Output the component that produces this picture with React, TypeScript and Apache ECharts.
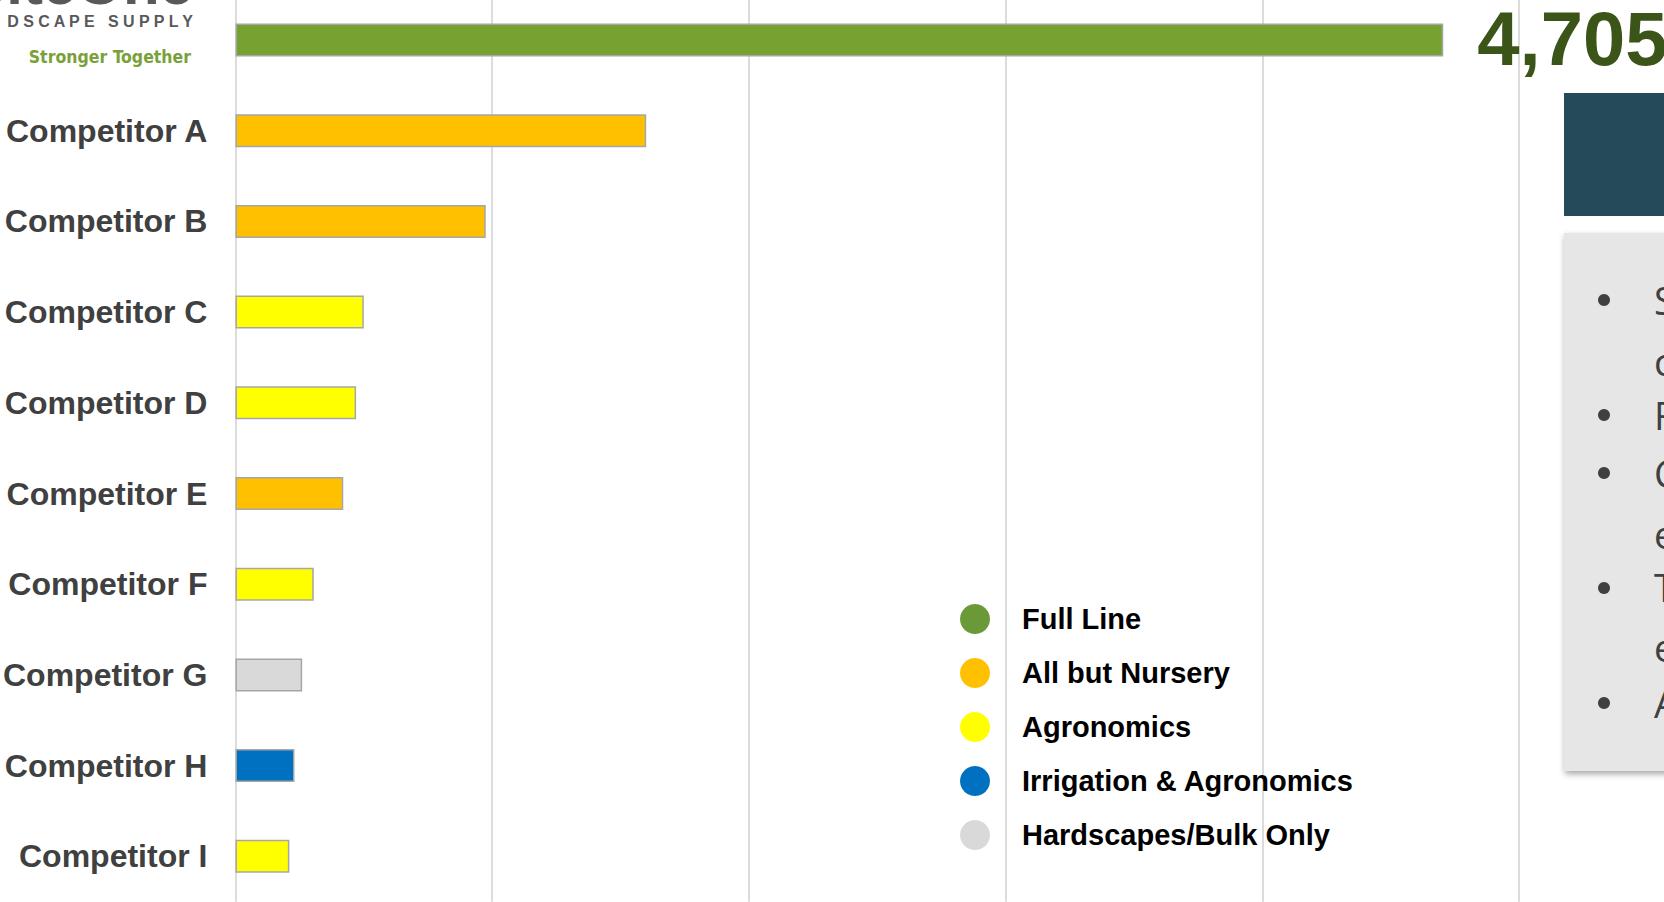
import React, { useEffect, useRef } from "react";
import * as echarts from "echarts";

const categories = [
  "SiteOne",
  "Competitor A",
  "Competitor B",
  "Competitor C",
  "Competitor D",
  "Competitor E",
  "Competitor F",
  "Competitor G",
  "Competitor H",
  "Competitor I",
];
const values = [4705, 1600, 975, 500, 470, 420, 305, 260, 230, 210];
const segmentOf = [
  "Full Line",
  "All but Nursery",
  "All but Nursery",
  "Agronomics",
  "Agronomics",
  "All but Nursery",
  "Agronomics",
  "Hardscapes/Bulk Only",
  "Irrigation & Agronomics",
  "Agronomics",
];
const segments = [
  "Full Line",
  "All but Nursery",
  "Agronomics",
  "Irrigation & Agronomics",
  "Hardscapes/Bulk Only",
];
const barColors = ["#78A22F", "#FFC000", "#FFFF00", "#0070C0", "#D9D9D9"];
const legendColors = ["#6A9A37", "#FFC000", "#FFFF00", "#0070C0", "#D9D9D9"];
const xTicks = [0, 1000, 2000, 3000, 4000, 5000];
const panelLetters = [
  { t: "S", y: 300 },
  { t: "c", y: 361 },
  { t: "F", y: 415 },
  { t: "C", y: 473 },
  { t: "e", y: 534 },
  { t: "T", y: 587 },
  { t: "e", y: 647 },
  { t: "A", y: 703 },
];
const bulletYs = [300, 415, 473, 588, 703];

const OFF = 10; // chart div is shifted up by OFF px

export default function App() {
  const ref = useRef<HTMLDivElement>(null);
  useEffect(() => {
    if (!ref.current) return;
    const chart = echarts.init(ref.current, undefined, { renderer: "svg" });
    const series = segments.map((s, si) => ({
      name: s,
      type: "bar",
      stack: "all",
      barWidth: 33,
      data: values.map((v, i) => (segmentOf[i] === s ? v : "-")),
      itemStyle: { color: barColors[si], borderColor: "#A6A6A6", borderWidth: 1.5 },
      label:
        s === "Full Line"
          ? {
              show: true,
              position: "right",
              distance: 34,
              offset: [0, -2],
              formatter: (p: any) => Number(p.value).toLocaleString("en-US"),
              fontFamily: "Liberation Sans, Arial, sans-serif",
              fontSize: 76,
              fontWeight: "bold",
              color: "#3B5418",
            }
          : { show: false },
    }));
    const graphics: any[] = [
      {
        type: "text",
        x: 193,
        y: -17 + OFF,
        style: {
          text: "SiteOne",
          align: "right",
          verticalAlign: "middle",
          fontFamily: "Liberation Sans, Arial, sans-serif",
          fontWeight: "bold",
          fontSize: 60,
          fill: "#58595B",
        },
      },
      {
        type: "text",
        x: 193,
        y: 21.5 + OFF,
        style: {
          text: "D S C A P E   S U P P L Y",
          align: "right",
          verticalAlign: "middle",
          fontFamily: "Liberation Sans, Arial, sans-serif",
          fontWeight: "bold",
          fontSize: 16,
          fill: "#58595B",
        },
      },
      {
        type: "text",
        x: 191,
        y: 56.5 + OFF,
        style: {
          text: "Stronger Together",
          align: "right",
          verticalAlign: "middle",
          fontFamily: "DejaVu Sans Condensed, DejaVu Sans, sans-serif",
          fontWeight: "bold",
          fontSize: 17.5,
          fill: "#79A13A",
        },
      },
      {
        type: "rect",
        shape: { x: 1564, y: 93 + OFF, width: 120, height: 123 },
        style: { fill: "#254B5A" },
      },
      {
        type: "rect",
        shape: { x: 1564, y: 233 + OFF, width: 120, height: 538 },
        style: {
          fill: "#E6E6E6",
          shadowBlur: 6,
          shadowColor: "rgba(0,0,0,0.35)",
          shadowOffsetX: 1,
          shadowOffsetY: 3,
        },
      },
      ...bulletYs.map((y) => ({
        type: "circle",
        shape: { cx: 1604, cy: y + OFF, r: 6 },
        style: { fill: "#404040" },
      })),
      ...panelLetters.map((l) => ({
        type: "text",
        x: 1654,
        y: l.y + OFF,
        style: {
          text: l.t,
          verticalAlign: "middle",
          fontFamily: "Open Sans, sans-serif",
          fontSize: 38,
          fill: "#404040",
        },
      })),
    ];
    chart.setOption({
      animation: false,
      backgroundColor: "#FFFFFF",
      grid: { left: 235, top: -5.35 + OFF, width: 1284, height: 907, containLabel: false },
      xAxis: {
        type: "value",
        min: xTicks[0],
        max: xTicks[xTicks.length - 1],
        interval: xTicks[1] - xTicks[0],
        axisLabel: { show: false },
        axisTick: { show: false },
        axisLine: { show: false },
        splitLine: { show: true, lineStyle: { color: "#DCDCDC", width: 2 } },
      },
      yAxis: {
        type: "category",
        inverse: true,
        data: categories,
        axisLine: { show: false },
        axisTick: { show: false },
        axisLabel: {
          margin: 28,
          formatter: (v: string, i: number) => (i === 0 ? "" : v),
          fontFamily: "Liberation Sans, Arial, sans-serif",
          fontSize: 32,
          fontWeight: "bold",
          color: "#404040",
        },
      },
      legend: {
        orient: "vertical",
        left: 955,
        top: 599 + OFF,
        icon: "circle",
        itemWidth: 30,
        itemHeight: 30,
        itemGap: 24,
        itemStyle: { borderWidth: 0 },
        data: segments.map((s, i) => ({ name: s, itemStyle: { color: legendColors[i], borderWidth: 0 } })),
        textStyle: {
          fontFamily: "Liberation Sans, Arial, sans-serif",
          fontSize: 29,
          fontWeight: "bold",
          color: "#000000",
          lineHeight: 30,
          padding: [0, 0, 0, 27],
        },
        selectedMode: false,
      },
      series,
      graphic: graphics,
    });
    return () => chart.dispose();
  }, []);
  return (
    <div
      ref={ref}
      style={{ position: "fixed", left: 0, top: -OFF, width: 1664, height: 902 + 2 * OFF }}
    />
  );
}
